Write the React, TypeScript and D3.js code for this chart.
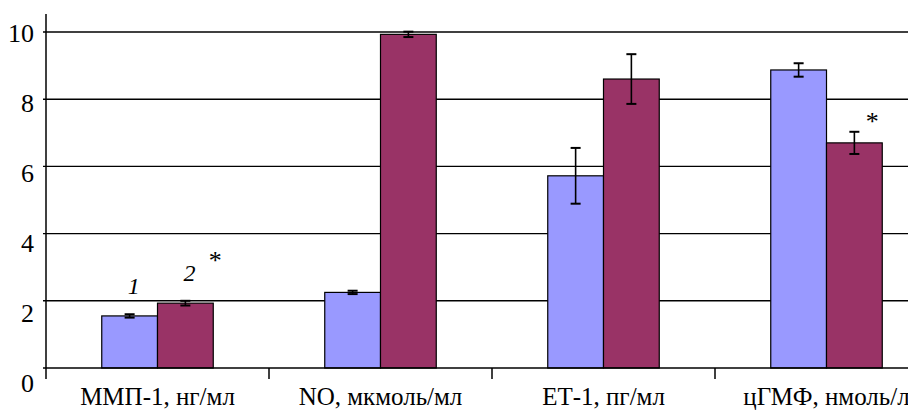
import React from "react";
import * as d3 from "d3";

const categories = ["ММП-1, нг/мл", "NO, мкмоль/мл", "ЕТ-1, пг/мл", "цГМФ, нмоль/л"];
const seriesNames = ["1", "2"];
const series1Values = [1.55, 2.25, 5.72, 8.87];
const series1Errors = [0.05, 0.05, 0.83, 0.2];
const series2Values = [1.93, 9.93, 8.6, 6.7];
const series2Errors = [0.07, 0.08, 0.74, 0.33];
const yTicks = [0, 2, 4, 6, 8, 10];
// significance marks: category index, y value of the mark
const starCategories = [0, 3];
const starValues = [3.3, 7.43];
const seriesColors = ["#9999FF", "#993366"];

const W = 916;
const H = 412;
const M = 8; // default body margin, compensated inside the svg
const FONT = "Liberation Serif";

export default function App() {
  const axisX = 46;
  const y0 = 368;
  const y10 = 32;
  const x = d3.scaleBand<string>().domain(categories).range([axisX, axisX + 223 * 4]).padding(0);
  const bw = x.bandwidth();
  const xi = d3.scaleBand<string>().domain(seriesNames).range([bw / 4, (3 * bw) / 4]).padding(0);
  const y = d3.scaleLinear().domain([0, 10]).range([y0, y10]);
  const yLab = d3.scaleLinear().domain([0, 10]).range([383, 33]);

  const data = categories.flatMap((c, i) => [
    { c, i, s: seriesNames[0], v: series1Values[i], e: series1Errors[i], col: seriesColors[0] },
    { c, i, s: seriesNames[1], v: series2Values[i], e: series2Errors[i], col: seriesColors[1] },
  ]);
  const barX = (d: { c: string; s: string }) => (x(d.c) as number) + (xi(d.s) as number);

  return (
    <svg width={W - M} height={H - M} overflow="visible">
      <g transform={`translate(${-M},${-M})`}>
        <rect x={0} y={0} width={W} height={H} fill="#fff" />
        {yTicks
          .filter((t) => t > 0)
          .map((t) => (
            <line key={"g" + t} x1={axisX - 3} x2={W} y1={y(t)} y2={y(t)} stroke="#000" strokeWidth={1.4} />
          ))}
        {data.map((d) => (
          <rect
            key={"r" + d.c + d.s}
            x={barX(d)}
            y={y(d.v)}
            width={xi.bandwidth()}
            height={y0 - y(d.v)}
            fill={d.col}
            stroke="#000"
            strokeWidth={1.2}
          />
        ))}
        {data.map((d) => {
          const cx = barX(d) + xi.bandwidth() / 2;
          const top = y(d.v + d.e);
          const bot = y(d.v - d.e);
          return (
            <g key={"e" + d.c + d.s} stroke="#000">
              <line x1={cx} x2={cx} y1={top} y2={bot} strokeWidth={1.6} />
              <line x1={cx - 5} x2={cx + 5} y1={top} y2={top} strokeWidth={2} />
              <line x1={cx - 5} x2={cx + 5} y1={bot} y2={bot} strokeWidth={2} />
            </g>
          );
        })}
        <line x1={axisX} x2={axisX} y1={14} y2={y0 + 11} stroke="#000" strokeWidth={1.5} />
        <line x1={axisX - 3} x2={W} y1={y0} y2={y0} stroke="#000" strokeWidth={1.5} />
        {categories.slice(1).map((c) => (
          <line key={"t" + c} x1={x(c)} x2={x(c)} y1={y0} y2={y0 + 11} stroke="#000" strokeWidth={1.5} />
        ))}
        {yTicks.map((t) => (
          <text key={"yl" + t} x={34} y={yLab(t) + 9} textAnchor="end" fontFamily={FONT} fontSize={26}>
            {t}
          </text>
        ))}
        {categories.map((c) => (
          <text key={"cl" + c} x={(x(c) as number) + bw / 2} y={405} textAnchor="middle" fontFamily={FONT} fontSize={25}>
            {c}
          </text>
        ))}
        {data
          .filter((d) => d.i === 0)
          .map((d) => (
            <text
              key={"sl" + d.s}
              x={barX(d) + xi.bandwidth() / 2 + 4}
              y={y(d.v + d.e) - 20}
              textAnchor="middle"
              fontFamily={FONT}
              fontStyle="italic"
              fontSize={24}
            >
              {d.s}
            </text>
          ))}
        {starCategories.map((ci, k) => {
          const c = categories[ci];
          const xr = (x(c) as number) + (xi(seriesNames[1]) as number);
          return (
            <text
              key={"st" + k}
              x={k === 0 ? xr + xi.bandwidth() + 2 : xr + xi.bandwidth() - 10}
              y={y(starValues[k]) + 12}
              textAnchor="middle"
              fontFamily={FONT}
              fontSize={26}
            >
              *
            </text>
          );
        })}
      </g>
    </svg>
  );
}
